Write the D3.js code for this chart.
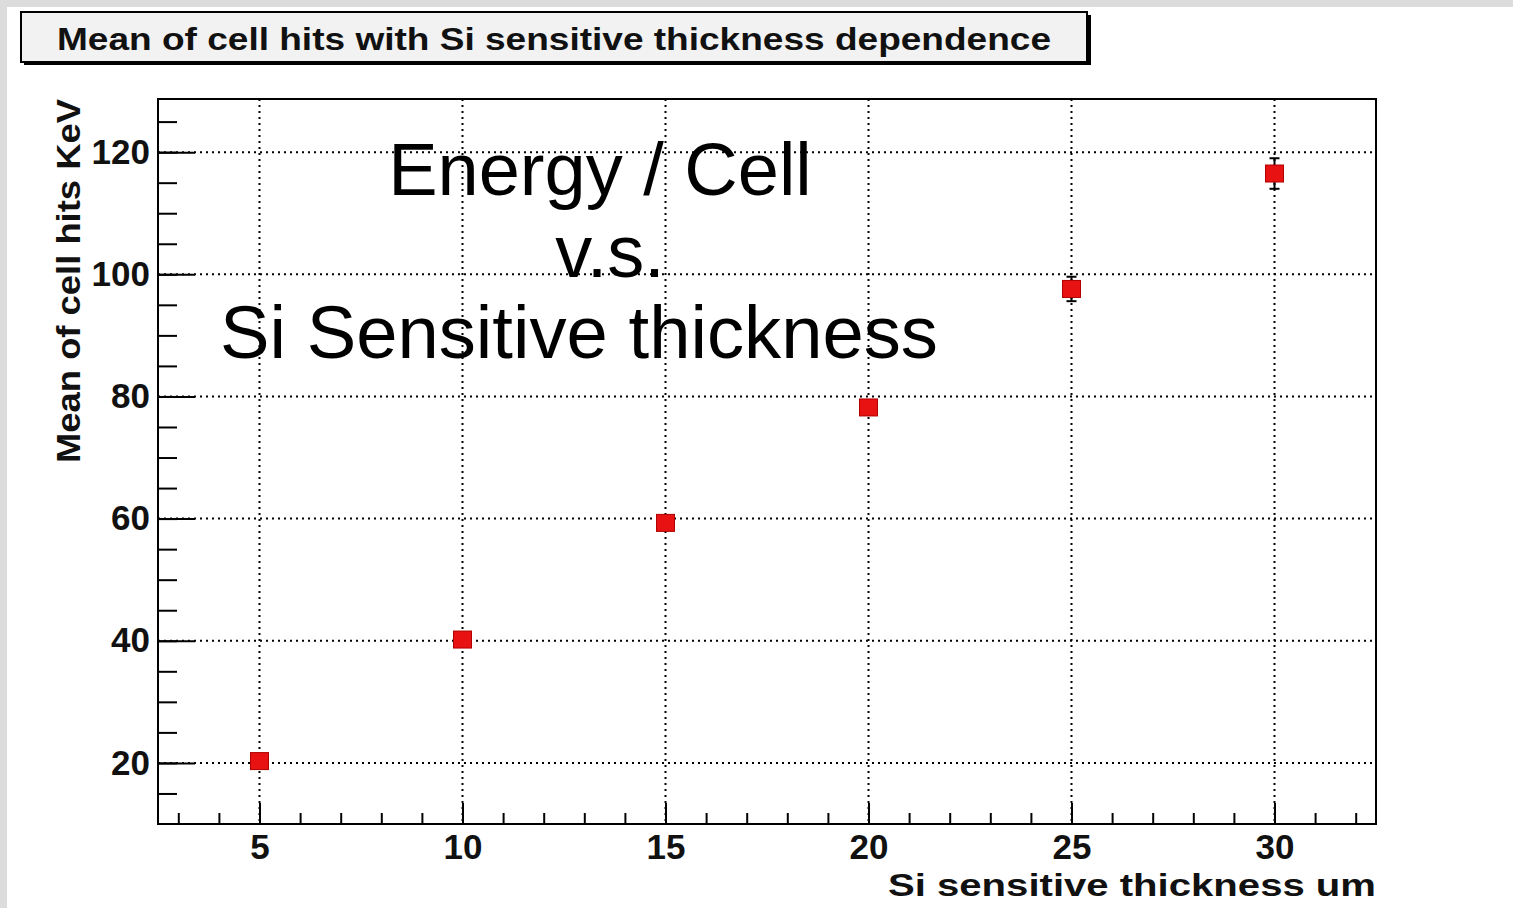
<!DOCTYPE html>
<meta charset="utf-8">
<style>
  body { margin: 0; background: #fff; }
  text { font-family: "Liberation Sans", Arial, sans-serif; }
  .grid line { stroke: #000; stroke-width: 2; stroke-dasharray: 2,4; }
  .axis path { display: none; }
  .axis line { stroke: #000; stroke-width: 2; }
  .axis text { font-weight: bold; font-size: 35px; fill: #111; }
</style>
<svg width="1513" height="908"></svg>
<script src="https://d3js.org/d3.v7.min.js"></script>
<script>
  // data
  var thickness = [5, 10, 15, 20, 25, 30];
  var meanHits  = [20.3, 40.2, 59.3, 78.2, 97.6, 116.5];
  var hitErrors = [0.4, 0.5, 0.6, 1.2, 2.0, 2.5];
  var xMajor = [5, 10, 15, 20, 25, 30];
  var yMajor = [20, 40, 60, 80, 100, 120];

  var svg = d3.select("svg");
  var fL = 158, fR = 1376, fT = 99, fB = 824;

  var x = d3.scaleLinear().domain([2.5, 32.5]).range([fL, fR]);
  var y = d3.scaleLinear().domain([10, 128.7]).range([fB, fT]);

  // grey canvas edge
  svg.append("rect").attr("width", 1513).attr("height", 908).attr("fill", "#fff");
  svg.append("rect").attr("width", 1513).attr("height", 7).attr("fill", "#dcdcdc");
  svg.append("rect").attr("width", 7).attr("height", 908).attr("fill", "#dcdcdc");

  // title box
  svg.append("rect").attr("x", 24).attr("y", 15).attr("width", 1067).attr("height", 50).attr("fill", "#000");
  svg.append("rect").attr("x", 21).attr("y", 12).attr("width", 1066).attr("height", 50)
      .attr("fill", "#f2f2f2").attr("stroke", "#000").attr("stroke-width", 2);
  svg.append("text").attr("x", 57).attr("y", 50)
      .attr("font-size", 32).attr("font-weight", "bold").attr("fill", "#111")
      .attr("textLength", 994).attr("lengthAdjust", "spacingAndGlyphs")
      .text("Mean of cell hits with Si sensitive thickness dependence");

  // dotted grid
  var grid = svg.append("g").attr("class", "grid");
  grid.selectAll(".gx").data(xMajor).enter().append("line")
      .attr("x1", x).attr("x2", x).attr("y1", fT).attr("y2", fB);
  grid.selectAll(".gy").data(yMajor).enter().append("line")
      .attr("y1", y).attr("y2", y).attr("x1", fL).attr("x2", fR);

  // minor ticks
  svg.append("g").attr("class", "axis").attr("transform", "translate(0," + fB + ")")
      .call(d3.axisBottom(x).tickValues(d3.range(3, 33)).tickSize(-11).tickFormat(""));
  svg.append("g").attr("class", "axis").attr("transform", "translate(" + fL + ",0)")
      .call(d3.axisLeft(y).tickValues(d3.range(15, 130, 5)).tickSize(-19).tickFormat(""));

  // major ticks with labels
  svg.append("g").attr("class", "axis").attr("transform", "translate(0," + fB + ")")
      .call(d3.axisBottom(x).tickValues(xMajor).tickSize(-21).tickPadding(10));
  svg.append("g").attr("class", "axis").attr("transform", "translate(" + fL + ",0)")
      .call(d3.axisLeft(y).tickValues(yMajor).tickSize(-37).tickPadding(8));

  // frame
  svg.append("rect").attr("x", fL).attr("y", fT)
      .attr("width", fR - fL).attr("height", fB - fT)
      .attr("fill", "none").attr("stroke", "#000").attr("stroke-width", 2);

  // axis titles
  svg.append("text").attr("x", fR).attr("y", 896).attr("text-anchor", "end")
      .attr("font-size", 32).attr("font-weight", "bold").attr("fill", "#111")
      .attr("textLength", 488).attr("lengthAdjust", "spacingAndGlyphs")
      .text("Si sensitive thickness  um");
  svg.append("text").attr("transform", "translate(80," + fT + ") rotate(-90)")
      .attr("text-anchor", "end")
      .attr("font-size", 33).attr("font-weight", "bold").attr("fill", "#111")
      .attr("textLength", 364).attr("lengthAdjust", "spacingAndGlyphs")
      .text("Mean of cell hits   KeV");

  // overlay annotation
  var note = svg.append("g").attr("font-size", 74).attr("fill", "#000").attr("text-anchor", "middle");
  note.append("text").attr("x", 600).attr("y", 195).text("Energy / Cell");
  note.append("text").attr("x", 610).attr("y", 277).text("v.s.");
  note.append("text").attr("x", 579).attr("y", 358).attr("textLength", 718)
      .attr("lengthAdjust", "spacingAndGlyphs").text("Si Sensitive thickness");

  // points with error bars
  var pts = svg.append("g").selectAll("g").data(thickness).enter().append("g");
  pts.append("line")
      .attr("x1", function(d) { return x(d); }).attr("x2", function(d) { return x(d); })
      .attr("y1", function(d, i) { return y(meanHits[i] - hitErrors[i]); })
      .attr("y2", function(d, i) { return y(meanHits[i] + hitErrors[i]); })
      .attr("stroke", "#000").attr("stroke-width", 2);
  [-1, 1].forEach(function(s) {
    pts.append("line")
        .attr("x1", function(d) { return x(d) - 5; }).attr("x2", function(d) { return x(d) + 5; })
        .attr("y1", function(d, i) { return y(meanHits[i] + s * hitErrors[i]); })
        .attr("y2", function(d, i) { return y(meanHits[i] + s * hitErrors[i]); })
        .attr("stroke", "#000").attr("stroke-width", 2);
  });
  pts.append("rect")
      .attr("x", function(d) { return x(d) - 9; })
      .attr("y", function(d, i) { return y(meanHits[i]) - 8.5; })
      .attr("width", 18).attr("height", 17)
      .attr("fill", "#e81212").attr("stroke", "#b00000").attr("stroke-width", 1);
</script>
